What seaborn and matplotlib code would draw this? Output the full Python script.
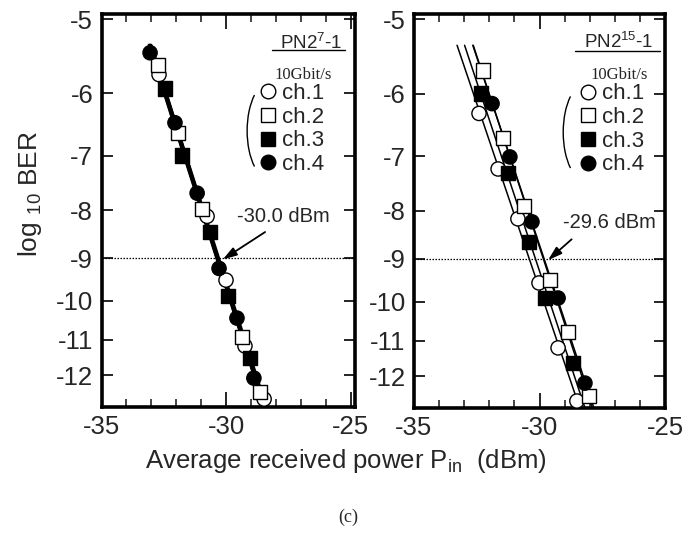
import numpy as np
import pandas as pd
import matplotlib
matplotlib.use("Agg")
import matplotlib.pyplot as plt
import seaborn as sns
from matplotlib.lines import Line2D
from matplotlib.patches import Arc

# ---------------- data ----------------
channels = ["ch.1", "ch.2", "ch.3", "ch.4"]

# PN2^7-1 panel
pn7_ch1_p = [-32.69, -30.76, -30.00, -29.24, -28.47]
pn7_ch1_ber = [-5.73, -8.12, -9.50, -11.17, -12.73]
pn7_ch2_p = [-32.73, -31.93, -30.96, -29.36, -28.63]
pn7_ch2_ber = [-5.60, -6.62, -7.98, -10.93, -12.51]
pn7_ch3_p = [-32.45, -31.77, -30.64, -29.92, -29.04]
pn7_ch3_ber = [-5.93, -6.99, -8.44, -9.88, -11.51]
pn7_ch4_p = [-33.05, -32.05, -31.16, -30.28, -29.56, -28.88]
pn7_ch4_ber = [-5.43, -6.45, -7.67, -9.23, -10.43, -12.09]

# PN2^15-1 panel
pn15_ch1_p = [-32.41, -31.65, -30.86, -30.02, -29.26, -28.51]
pn15_ch1_ber = [-6.30, -7.22, -8.16, -9.55, -11.20, -12.76]
pn15_ch2_p = [-32.25, -31.45, -30.62, -29.58, -28.86, -28.03]
pn15_ch2_ber = [-5.67, -6.69, -7.90, -9.48, -10.77, -12.61]
pn15_ch3_p = [-32.33, -31.25, -30.42, -29.78, -28.67]
pn15_ch3_ber = [-6.00, -7.29, -8.64, -9.91, -11.63]
pn15_ch4_p = [-31.89, -31.18, -30.30, -29.26, -28.19]
pn15_ch4_ber = [-6.15, -7.01, -8.22, -9.91, -12.21]

ber_ref = -9
sens_pn7 = "-30.0 dBm"
sens_pn15 = "-29.6 dBm"
pn7_title = "PN2$^{7}$-1"
pn15_title = "PN2$^{15}$-1"
rate_label = "10Gbit/s"

yticks = [-5, -6, -7, -8, -9, -10, -11, -12]
ytick_labels = ["-5", "-6", "-7", "-8", "-9", "-10", "-11", "-12"]
xticks = [-35, -30, -25]
xtick_labels = ["-35", "-30", "-25"]
xminor = [-34, -33, -32, -31, -29, -28, -27, -26]

# ---------------- styling ----------------
sns.set_theme(style="ticks")
plt.rcParams["font.family"] = ["Liberation Sans", "DejaVu Sans"]
plt.rcParams["axes.unicode_minus"] = False
plt.rcParams["mathtext.fontset"] = "custom"
plt.rcParams["mathtext.rm"] = "Liberation Sans"
plt.rcParams["mathtext.it"] = "Liberation Sans:italic"
plt.rcParams["mathtext.bf"] = "Liberation Sans:bold"


def fwd(y):
    y = np.asarray(y, float)
    with np.errstate(all="ignore"):
        return -np.log10(np.clip(-y, 1e-6, None))


def inv(t):
    return -10.0 ** (-np.asarray(t, float))


def make_df(ps, bers):
    rows = []
    for ch, p, b in zip(channels, ps, bers):
        for pi, bi in zip(p, b):
            rows.append((ch, pi, bi))
    return pd.DataFrame(rows, columns=["channel", "power", "ber"])


def fit_df(df, top=-5.33, bottom=-13.4):
    rows = []
    for ch, g in df.groupby("channel"):
        t = fwd(g["ber"].values)
        a, b = np.polyfit(t, g["power"].values, 1)
        tt = np.linspace(fwd(bottom), fwd(top), 60)
        for ti in tt:
            rows.append((ch, a * ti + b, float(inv(ti))))
    return pd.DataFrame(rows, columns=["channel", "power", "ber"])


df7 = make_df([pn7_ch1_p, pn7_ch2_p, pn7_ch3_p, pn7_ch4_p],
              [pn7_ch1_ber, pn7_ch2_ber, pn7_ch3_ber, pn7_ch4_ber])
df15 = make_df([pn15_ch1_p, pn15_ch2_p, pn15_ch3_p, pn15_ch4_p],
               [pn15_ch1_ber, pn15_ch2_ber, pn15_ch3_ber, pn15_ch4_ber])

marker_map = {"ch.1": "o", "ch.2": "s", "ch.3": "s", "ch.4": "o"}
face_map = {"ch.1": "white", "ch.2": "white", "ch.3": "black", "ch.4": "black"}

W, H = 697, 534
fig = plt.figure(figsize=(W / 100, H / 100), dpi=100)
ax1 = fig.add_axes([101.5 / W, 1 - 407 / H, 253.5 / W, 393.5 / H])
ax2 = fig.add_axes([414 / W, 1 - 408 / H, 251 / W, 394.5 / H])

panels = [
    (ax1, df7, -24.82, 2.2, sens_pn7, (-30.13, -9.03), (-28.43, -8.44), (-27.7, -8.12),
     pn7_title, (0.826, 0.926), (0.673, 0.960), (0.795, 0.844), (0.628, 0.823), (0.667, 0.702)),
    (ax2, df15, -25.0, 1.1, sens_pn15, (-29.66, -9.03), (-28.72, -8.58), (-27.2, -8.24),
     pn15_title, (0.815, 0.928), (0.641, 0.980), (0.819, 0.844), (0.663, 0.823), (0.687, 0.699)),
]

for (ax, df, xmax, lw, sens, tip, start, txt, title, tpos, uline, rpos, legpos, parpos) in panels:
    ax.set_yscale("function", functions=(fwd, inv))
    ax.set_xlim(-35, xmax)
    ax.set_ylim(-12.98, -4.93)

    fd = fit_df(df)
    sns.lineplot(data=fd, x="power", y="ber", units="channel", estimator=None,
                 sort=False, color="black", lw=lw, ax=ax, legend=False, zorder=2)
    sns.scatterplot(data=df, x="power", y="ber", hue="channel", style="channel",
                    palette=face_map, markers=marker_map, s=105, edgecolor="black",
                    linewidth=1.0, ax=ax, legend=False, zorder=3)

    ax.axhline(ber_ref, color="black", lw=0.9, ls=(0, (1.2, 1.2)), zorder=1)
    ax.annotate("", xy=tip, xytext=start,
                arrowprops=dict(arrowstyle="-|>,head_length=0.7,head_width=0.22",
                                color="black", lw=1.3, shrinkA=0, shrinkB=0))
    ax.text(txt[0], txt[1], sens, fontsize=14.5, ha="center", va="center")

    ax.text(tpos[0], tpos[1], title, transform=ax.transAxes, fontsize=13.5,
            ha="center", va="center")
    ax.add_line(Line2D([uline[0], uline[1]], [0.906, 0.906], transform=ax.transAxes,
                       color="black", lw=1.0))
    ax.text(rpos[0], rpos[1], rate_label, transform=ax.transAxes, fontsize=12,
            family="Liberation Serif", ha="center", va="center")

    handles = [Line2D([], [], ls="", marker=marker_map[c], markersize=10.5,
                      markerfacecolor=face_map[c], markeredgecolor="black",
                      markeredgewidth=1.0) for c in channels]
    ax.legend(handles, channels, loc="upper left", bbox_to_anchor=legpos,
              frameon=False, fontsize=16, handlelength=0.65, handletextpad=0.3,
              labelspacing=0.12, borderaxespad=0, borderpad=0)

    ax.add_patch(Arc((parpos[0], parpos[1]), 0.185, 0.25, theta1=125, theta2=235,
                     transform=ax.transAxes, color="black", lw=1.0))

    ax.set_yticks(yticks)
    ax.set_yticklabels(ytick_labels)
    ax.set_xticks(xticks)
    ax.set_xticklabels(xtick_labels)
    ax.set_xticks(xminor, minor=True)
    ax.yaxis.set_minor_locator(matplotlib.ticker.NullLocator())
    ax.tick_params(axis="both", which="major", direction="in", length=11, width=1.2,
                   labelsize=18.5, top=True, right=True, pad=6, color="black")
    ax.tick_params(axis="y", which="major", length=8)
    ax.tick_params(axis="x", which="minor", direction="in", length=6, width=1.2,
                   top=True, bottom=True)
    for s in ax.spines.values():
        s.set_linewidth(2.6)
        s.set_color("black")
    ax.set_xlabel("")
    ax.set_ylabel("")
    ax.set_facecolor("white")

fig.text(346 / W, 1 - 461 / H, "Average received power P$_{\\mathrm{in}}$  (dBm)",
         fontsize=18.5, ha="center", va="center")
fig.text(30 / W, 1 - 194 / H, "log $_{10}$ BER", fontsize=19, rotation=90,
         ha="center", va="center")
fig.text(348 / W, 1 - 517 / H, "(c)", fontsize=13, family="Liberation Serif",
         ha="center", va="center")

fig.savefig("out.png", dpi=100, facecolor="white")
